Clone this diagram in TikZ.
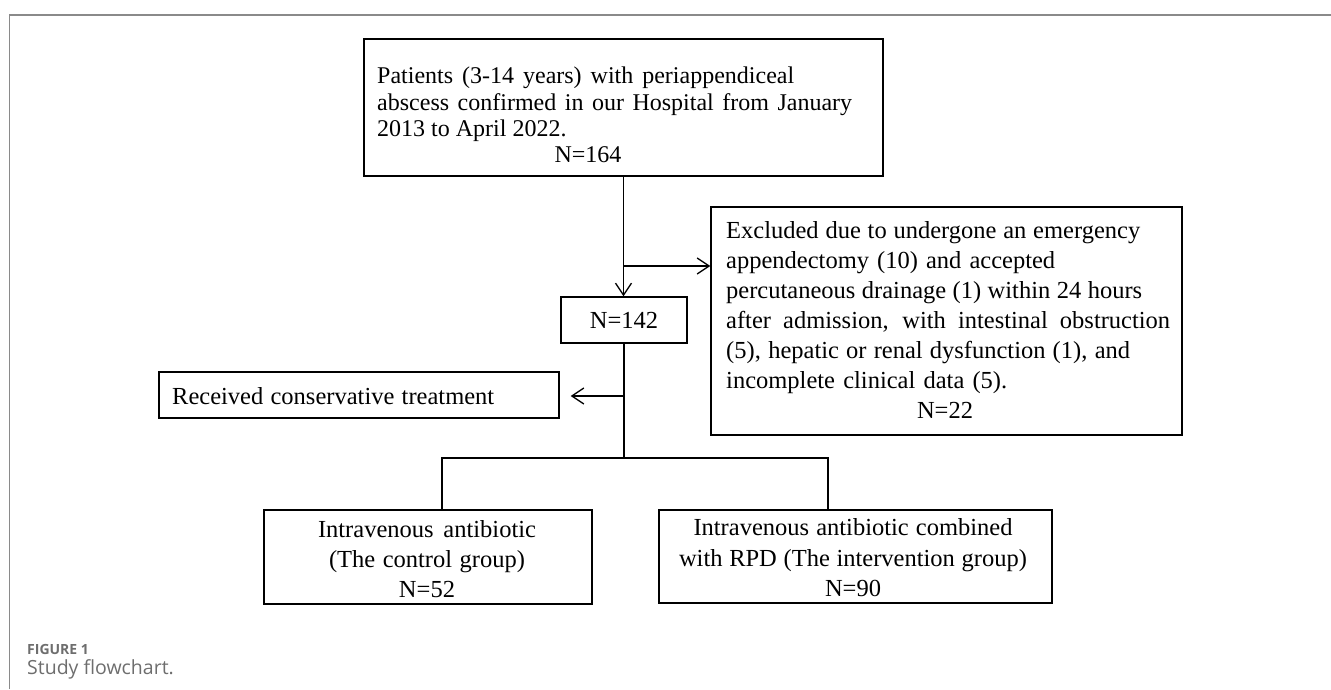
\documentclass[tikz,border=0pt]{standalone}
\usepackage{fontspec}
\setmainfont{Liberation Serif}
\newfontfamily\capsans{Open Sans}
\usetikzlibrary{arrows.meta}
\definecolor{framegray}{HTML}{8A8A8A}
\definecolor{capgray}{HTML}{6E6E6E}
\newcommand{\jl}[2]{\makebox[#1pt][s]{#2}}
\begin{document}
\begin{tikzpicture}[x=1pt,y=-1pt,
  box/.style={draw=black, line width=1.4pt, rectangle, inner sep=0pt},
  conn/.style={draw=black, line width=1.3pt},
  arr/.style={conn, -{Straight Barb[length=12pt,width=16pt,line width=1.3pt]}},
  ftxt/.style={inner sep=0pt, font=\fontsize{24.5}{30}\selectfont},
  ttxt/.style={inner sep=0pt, font=\fontsize{24}{27}\selectfont},
]
\useasboundingbox (0,0) rectangle (1331,689);
\fill[white] (0,0) rectangle (1331,689);
\draw[framegray, line width=1.5pt] (9.5,689) -- (9.5,15) -- (1331,15);

% boxes
\node[box, minimum width=519pt, minimum height=137pt] (top) at (623.5,107.5) {};
\node[box, minimum width=126pt, minimum height=46pt, ftxt] (n142) at (624,320) {N=142};
\node[box, minimum width=471pt, minimum height=228pt] (excl) at (946.5,321) {};
\node[box, minimum width=400pt, minimum height=46pt] (cons) at (359,395) {};
\node[box, minimum width=328pt, minimum height=94pt] (ctrl) at (428,557) {};
\node[box, minimum width=393pt, minimum height=93pt] (intv) at (855.5,556.5) {};

% top box text
\node[ttxt, anchor=base west] (top1) at (377,83) {\jl{417}{Patients (3-14 years) with periappendiceal}};
\node[ttxt, anchor=base west] (top2) at (377,110) {\jl{475}{abscess confirmed in our Hospital from January}};
\node[ttxt, anchor=base west] (top3) at (377,136) {2013 to April 2022.};
\node[ttxt, anchor=base] (top4) at (588,162) {N=164};

% excluded box text
\node[ftxt, anchor=base west] (ex1) at (726,238) {\jl{414}{Excluded due to undergone an emergency}};
\node[ftxt, anchor=base west] (ex2) at (726,268) {\jl{329}{appendectomy (10) and accepted}};
\node[ftxt, anchor=base west] (ex3) at (726,298) {\jl{416}{percutaneous drainage (1) within 24 hours}};
\node[ftxt, anchor=base west] (ex4) at (726,328) {\jl{444}{after admission, with intestinal obstruction}};
\node[ftxt, anchor=base west] (ex5) at (726,358) {\jl{404}{(5), hepatic or renal dysfunction (1), and}};
\node[ftxt, anchor=base west] (ex6) at (726,388) {\jl{281}{incomplete clinical data (5).}};
\node[ftxt, anchor=base] (ex7) at (945,418) {N=22};

% conservative
\node[ftxt, anchor=base west] (cons1) at (172,404) {\jl{322}{Received conservative treatment}};

% control group
\node[ftxt, anchor=base] (ct1) at (427,537) {\jl{218}{Intravenous antibiotic}};
\node[ftxt, anchor=base] (ct2) at (427,567) {\jl{196}{(The control group)}};
\node[ftxt, anchor=base] (ct3) at (427,597) {N=52};

% intervention group
\node[ftxt, anchor=base] (iv1) at (853,535) {\jl{319}{Intravenous antibiotic combined}};
\node[ftxt, anchor=base] (iv2) at (853,566) {\jl{348}{with RPD (The intervention group)}};
\node[ftxt, anchor=base] (iv3) at (853,596) {N=90};

% connectors
\coordinate (b1) at (624,266);
\coordinate (b2) at (624,396);
\coordinate (j) at (624,458);
\coordinate (d1) at (442,458);
\coordinate (d2) at (828,458);
\draw[arr] (top.south) -- (top.south |- n142.north);
\draw[arr] (b1) -- (b1 -| excl.west);
\draw[conn] (n142.south) -- (j);
\draw[arr, shorten >=11pt] (b2) -- (b2 -| cons.east);
\draw[conn] (d1 |- ctrl.north) -- (d1) -- (d2) -- (d2 |- intv.north);

% caption
\node[anchor=west, inner sep=0pt, font=\capsans\bfseries\fontsize{14}{16}\selectfont, text=capgray] (fig) at (27,649) {FIGURE 1};
\node[anchor=west, inner sep=0pt, font=\capsans\fontsize{19.5}{22}\selectfont, text=capgray] (cap) at (27,669) {Study flowchart.};
\end{tikzpicture}
\end{document}
